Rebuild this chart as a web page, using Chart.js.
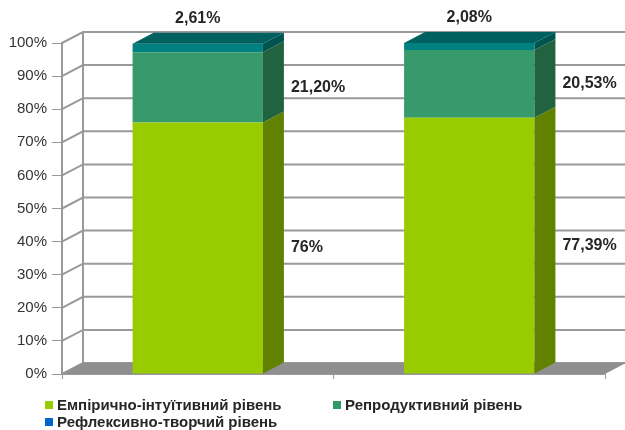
<!DOCTYPE html>
<html>
<head>
<meta charset="utf-8">
<script src="https://cdn.jsdelivr.net/npm/chart.js@4"></script>
<style>
    body { margin: 0; background: #fff; }
    #wrap { position: relative; width: 625px; height: 430px; }
    .legend { position: absolute; font-family: "Liberation Sans", Arial, sans-serif; font-weight: bold; font-size: 15px; color: #262626; white-space: nowrap; }
    .legend span { display: inline-block; width: 8px; height: 8px; margin-right: 4px; vertical-align: 1px; }
</style>
</head>
<body>
<div id="wrap">
    <canvas id="chart" width="625" height="430"></canvas>
    <div class="legend" style="left:45px; top:396px;"><span style="background:#99cc00"></span>Емпірично-інтуїтивний рівень</div>
    <div class="legend" style="left:333px; top:396px;"><span style="background:#2e9a68"></span>Репродуктивний рівень</div>
    <div class="legend" style="left:45px; top:413px;"><span style="background:#0066cc"></span>Рефлексивно-творчий рівень</div>
</div>
<script>
// data
const groups = ['1', '2'];
const seriesNames = ['Емпірично-інтуїтивний рівень', 'Репродуктивний рівень', 'Рефлексивно-творчий рівень'];
const empirical = [76, 77.39];
const reproductive = [21.2, 20.53];
const reflexive = [2.61, 2.08];
const yTicks = [0, 10, 20, 30, 40, 50, 60, 70, 80, 90, 100];

// colours: front, side, top
const frontColors = ['#99cc00', '#389a6a', '#008080'];
const sideColors = ['#618200', '#22633f', '#00544f'];
const topColor = '#006060';

const DX = 21; // depth offset
const DY = 11;

function fmt(v) {
    if (Number.isInteger(v)) return v + '%';
    return v.toFixed(2).replace('.', ',') + '%';
}

const box3d = {
    id: 'box3d',
    beforeDatasetsDraw(chart) {
        const ctx = chart.ctx;
        const a = chart.chartArea;
        const y = chart.scales.y;
        ctx.save();
        ctx.strokeStyle = '#999';
        ctx.lineWidth = 2;
        // back wall gridlines + left wall diagonals
        yTicks.forEach(v => {
            const py = y.getPixelForValue(v);
            ctx.beginPath();
            ctx.moveTo(a.left, py);
            ctx.lineTo(a.left + DX, py - DY);
            ctx.lineTo(a.right + DX, py - DY);
            ctx.stroke();
        });
        ctx.beginPath();
        ctx.moveTo(a.left + DX, a.top - DY);
        ctx.lineTo(a.left + DX, a.bottom - DY);
        ctx.stroke();
        // floor
        ctx.fillStyle = '#8f8f8f';
        ctx.beginPath();
        ctx.moveTo(a.left, a.bottom);
        ctx.lineTo(a.right, a.bottom);
        ctx.lineTo(a.right + DX, a.bottom - DY);
        ctx.lineTo(a.left + DX, a.bottom - DY);
        ctx.closePath();
        ctx.fill();
        ctx.restore();
    },
    afterDatasetsDraw(chart) {
        const ctx = chart.ctx;
        const last = chart.data.datasets.length - 1;
        ctx.save();
        chart.data.datasets.forEach((ds, di) => {
            const meta = chart.getDatasetMeta(di);
            meta.data.forEach((bar, i) => {
                const p = bar.getProps(['x', 'y', 'base', 'width'], true);
                const l = p.x - p.width / 2;
                const r = p.x + p.width / 2;
                // side face
                ctx.fillStyle = sideColors[di];
                ctx.beginPath();
                ctx.moveTo(r, p.y);
                ctx.lineTo(r + DX, p.y - DY);
                ctx.lineTo(r + DX, p.base - DY);
                ctx.lineTo(r, p.base);
                ctx.closePath();
                ctx.fill();
                // top face
                if (di === last) {
                    ctx.fillStyle = topColor;
                    ctx.beginPath();
                    ctx.moveTo(l, p.y);
                    ctx.lineTo(r, p.y);
                    ctx.lineTo(r + DX, p.y - DY);
                    ctx.lineTo(l + DX, p.y - DY);
                    ctx.closePath();
                    ctx.fill();
                }
                // labels
                ctx.font = 'bold 16px "Liberation Sans", Arial, sans-serif';
                ctx.fillStyle = '#262626';
                ctx.textBaseline = 'middle';
                const txt = fmt(ds.data[i]);
                if (di === last) {
                    ctx.textAlign = 'center';
                    ctx.fillText(txt, p.x, p.y - DY - 14);
                } else {
                    ctx.textAlign = 'left';
                    ctx.fillText(txt, r + DX + 7, (p.y + p.base) / 2);
                }
            });
        });
        ctx.restore();
    }
};

new Chart(document.getElementById('chart'), {
    type: 'bar',
    data: {
        labels: groups,
        datasets: [
            { label: seriesNames[0], data: empirical, backgroundColor: frontColors[0] },
            { label: seriesNames[1], data: reproductive, backgroundColor: frontColors[1] },
            { label: seriesNames[2], data: reflexive, backgroundColor: frontColors[2] }
        ]
    },
    options: {
        responsive: false,
        animation: false,
        categoryPercentage: 1,
        barPercentage: 0.48,
        layout: { padding: { top: 43, right: 20, left: 0, bottom: 0 } },
        plugins: {
            legend: { display: false },
            tooltip: { enabled: false }
        },
        scales: {
            x: {
                stacked: true,
                afterFit: (scale) => { scale.height = 56; },
                grid: { drawOnChartArea: false, drawTicks: true, tickLength: 5, color: '#999', lineWidth: 1, offset: true },
                border: { display: true, color: '#999' },
                ticks: { display: false }
            },
            y: {
                stacked: true,
                min: 0,
                max: 100,
                afterFit: (scale) => { scale.width = 62; },
                afterBuildTicks: (scale) => { scale.ticks = yTicks.map(v => ({ value: v })); },
                grid: { drawOnChartArea: false, drawTicks: true, tickLength: 10, color: '#999', lineWidth: 1 },
                border: { display: true, color: '#999', width: 2 },
                ticks: {
                    padding: 5,
                    color: '#333',
                    font: { family: '"Liberation Sans", Arial, sans-serif', size: 15 },
                    callback: (v) => v + '%'
                }
            }
        }
    },
    plugins: [box3d]
});
</script>
</body>
</html>
